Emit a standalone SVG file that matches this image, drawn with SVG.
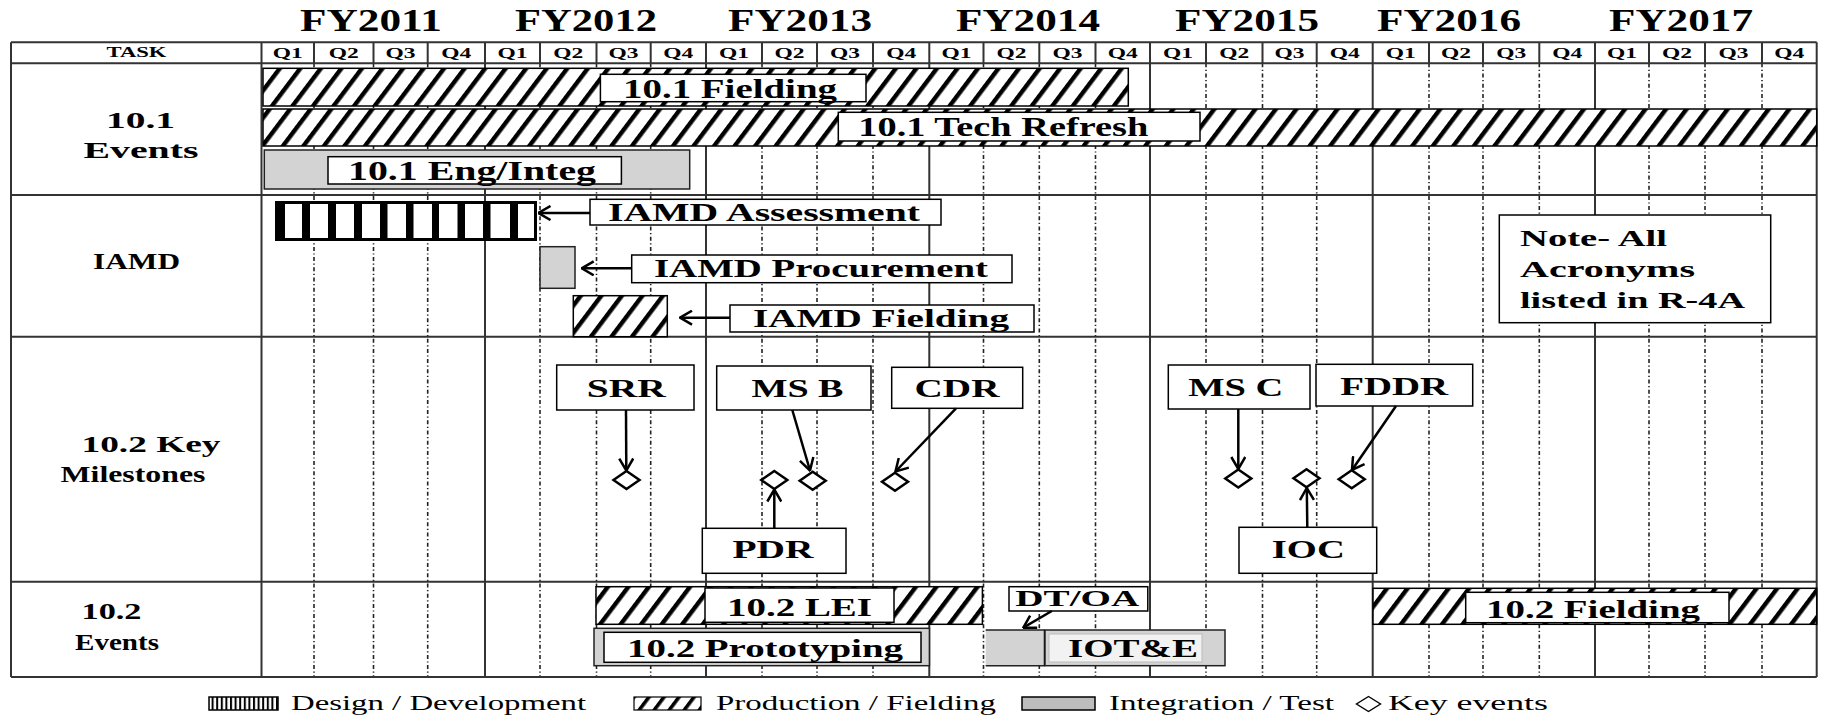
<svg xmlns="http://www.w3.org/2000/svg" width="1821" height="719" viewBox="0 0 1821 719">
<style>
.b{font-family:"Liberation Serif","Times New Roman",serif;font-weight:bold;fill:#000}
.r{font-family:"Liberation Serif","Times New Roman",serif;font-weight:normal;fill:#000}
.box{fill:#fff;stroke:#000;stroke-width:1.5}
.grey{fill:#d3d3d3;stroke:#222;stroke-width:1.5}
.hatch{fill:url(#hatch);stroke:#000;stroke-width:1.5}
.gs{stroke:#333;stroke-width:2;fill:none}
.gd{stroke:#222;stroke-width:1.6;stroke-dasharray:4 2.5 1.2 2.5;fill:none}
.conn{stroke:#000;stroke-width:2.5;fill:none;marker-end:url(#arrow)}
.dia{fill:#fff;stroke:#000;stroke-width:2.5}
</style>
<defs>
<pattern id="hatch" patternUnits="userSpaceOnUse" width="16.4" height="16.4" patternTransform="rotate(37)">
<rect width="16.4" height="16.4" fill="#fff"/>
<rect x="0" y="0" width="4.4" height="16.4" fill="#000"/>
</pattern>
<pattern id="hatchS" patternUnits="userSpaceOnUse" width="12" height="12" patternTransform="rotate(37)">
<rect width="12" height="12" fill="#fff"/>
<rect x="0" y="0" width="3.6" height="12" fill="#000"/>
</pattern>
<pattern id="vstripe" patternUnits="userSpaceOnUse" width="4.6" height="20">
<rect width="4.6" height="20" fill="#fff"/>
<rect x="0" y="0" width="2" height="20" fill="#000"/>
</pattern>
<marker id="arrow" markerUnits="userSpaceOnUse" viewBox="0 0 14 16" refX="13" refY="8" markerWidth="14" markerHeight="16" orient="auto">
<path d="M1,1 L13,8 L1,15" fill="none" stroke="#000" stroke-width="2.5"/>
</marker>
</defs>
<rect width="1821" height="719" fill="#fff"/>

<g id="years">
<text class="b" font-size="31" x="371" y="30.5" text-anchor="middle" textLength="142" lengthAdjust="spacingAndGlyphs">FY2011</text>
<text class="b" font-size="31" x="586" y="30.5" text-anchor="middle" textLength="142" lengthAdjust="spacingAndGlyphs">FY2012</text>
<text class="b" font-size="31" x="800" y="30.5" text-anchor="middle" textLength="144" lengthAdjust="spacingAndGlyphs">FY2013</text>
<text class="b" font-size="31" x="1028" y="30.5" text-anchor="middle" textLength="144" lengthAdjust="spacingAndGlyphs">FY2014</text>
<text class="b" font-size="31" x="1247" y="30.5" text-anchor="middle" textLength="144" lengthAdjust="spacingAndGlyphs">FY2015</text>
<text class="b" font-size="31" x="1449" y="30.5" text-anchor="middle" textLength="144" lengthAdjust="spacingAndGlyphs">FY2016</text>
<text class="b" font-size="31" x="1681" y="30.5" text-anchor="middle" textLength="144" lengthAdjust="spacingAndGlyphs">FY2017</text>
</g>

<g id="grid">
<path class="gs" d="M314,42.3V63.3 M373.5,42.3V63.3 M427.7,42.3V63.3 M540,42.3V63.3 M596.5,42.3V63.3 M650.7,42.3V63.3 M762,42.3V63.3 M817,42.3V63.3 M873,42.3V63.3 M983.5,42.3V63.3 M1039.3,42.3V63.3 M1095.5,42.3V63.3 M1206,42.3V63.3 M1262.5,42.3V63.3 M1316.7,42.3V63.3 M1429,42.3V63.3 M1483,42.3V63.3 M1539.3,42.3V63.3 M1649,42.3V63.3 M1705,42.3V63.3 M1762,42.3V63.3"/>
<path class="gd" d="M314,63.3V677 M373.5,63.3V677 M427.7,63.3V677 M540,63.3V677 M596.5,63.3V677 M650.7,63.3V677 M762,63.3V677 M817,63.3V677 M873,63.3V677 M983.5,63.3V677 M1039.3,63.3V677 M1095.5,63.3V677 M1206,63.3V677 M1262.5,63.3V677 M1316.7,63.3V677 M1429,63.3V677 M1483,63.3V677 M1539.3,63.3V677 M1649,63.3V677 M1705,63.3V677 M1762,63.3V677"/>
<path class="gs" d="M11,42.3V677 M261.5,42.3V677 M485,42.3V677 M706,42.3V677 M929.3,42.3V677 M1150,42.3V677 M1372.7,42.3V677 M1595,42.3V677 M1816.7,42.3V677"/>
<path class="gs" stroke-width="2.4" d="M11,42.3H1816.7 M11,63.3H1816.7 M11,195H1816.7 M11,336.7H1816.7 M11,581.7H1816.7 M11,677H1816.7"/>
</g>

<g id="header">
<text class="b" font-size="14" x="136.5" y="56.5" text-anchor="middle" textLength="60" lengthAdjust="spacingAndGlyphs">TASK</text>
<g class="b" font-size="15.5" text-anchor="middle">
<text x="287.75" y="58" textLength="30" lengthAdjust="spacingAndGlyphs">Q1</text>
<text x="343.75" y="58" textLength="30" lengthAdjust="spacingAndGlyphs">Q2</text>
<text x="400.6" y="58" textLength="30" lengthAdjust="spacingAndGlyphs">Q3</text>
<text x="456.35" y="58" textLength="30" lengthAdjust="spacingAndGlyphs">Q4</text>
<text x="512.5" y="58" textLength="30" lengthAdjust="spacingAndGlyphs">Q1</text>
<text x="568.25" y="58" textLength="30" lengthAdjust="spacingAndGlyphs">Q2</text>
<text x="623.6" y="58" textLength="30" lengthAdjust="spacingAndGlyphs">Q3</text>
<text x="678.35" y="58" textLength="30" lengthAdjust="spacingAndGlyphs">Q4</text>
<text x="734" y="58" textLength="30" lengthAdjust="spacingAndGlyphs">Q1</text>
<text x="789.5" y="58" textLength="30" lengthAdjust="spacingAndGlyphs">Q2</text>
<text x="845" y="58" textLength="30" lengthAdjust="spacingAndGlyphs">Q3</text>
<text x="901.15" y="58" textLength="30" lengthAdjust="spacingAndGlyphs">Q4</text>
<text x="956.4" y="58" textLength="30" lengthAdjust="spacingAndGlyphs">Q1</text>
<text x="1011.4" y="58" textLength="30" lengthAdjust="spacingAndGlyphs">Q2</text>
<text x="1067.4" y="58" textLength="30" lengthAdjust="spacingAndGlyphs">Q3</text>
<text x="1122.75" y="58" textLength="30" lengthAdjust="spacingAndGlyphs">Q4</text>
<text x="1178" y="58" textLength="30" lengthAdjust="spacingAndGlyphs">Q1</text>
<text x="1234.25" y="58" textLength="30" lengthAdjust="spacingAndGlyphs">Q2</text>
<text x="1289.6" y="58" textLength="30" lengthAdjust="spacingAndGlyphs">Q3</text>
<text x="1344.7" y="58" textLength="30" lengthAdjust="spacingAndGlyphs">Q4</text>
<text x="1400.85" y="58" textLength="30" lengthAdjust="spacingAndGlyphs">Q1</text>
<text x="1456" y="58" textLength="30" lengthAdjust="spacingAndGlyphs">Q2</text>
<text x="1511.15" y="58" textLength="30" lengthAdjust="spacingAndGlyphs">Q3</text>
<text x="1567.15" y="58" textLength="30" lengthAdjust="spacingAndGlyphs">Q4</text>
<text x="1622" y="58" textLength="30" lengthAdjust="spacingAndGlyphs">Q1</text>
<text x="1677" y="58" textLength="30" lengthAdjust="spacingAndGlyphs">Q2</text>
<text x="1733.5" y="58" textLength="30" lengthAdjust="spacingAndGlyphs">Q3</text>
<text x="1789.35" y="58" textLength="30" lengthAdjust="spacingAndGlyphs">Q4</text>
</g>
</g>

<g id="task-labels" class="b" text-anchor="middle">
<text font-size="24" x="140.5" y="127.5" textLength="69" lengthAdjust="spacingAndGlyphs">10.1</text>
<text font-size="24" x="141" y="158.3" textLength="115" lengthAdjust="spacingAndGlyphs">Events</text>
<text font-size="24" x="136.5" y="269" textLength="87" lengthAdjust="spacingAndGlyphs">IAMD</text>
<text font-size="23" x="151" y="452" textLength="139" lengthAdjust="spacingAndGlyphs">10.2 Key</text>
<text font-size="23" x="133" y="482" textLength="145" lengthAdjust="spacingAndGlyphs">Milestones</text>
<text font-size="24" x="111.5" y="619" textLength="60" lengthAdjust="spacingAndGlyphs">10.2</text>
<text font-size="23" x="117" y="650" textLength="84" lengthAdjust="spacingAndGlyphs">Events</text>
</g>

<g id="fielding-10-1">
<rect class="hatch" x="263" y="68.3" width="865.3" height="37.7"/>
<rect class="box" x="600.4" y="74.3" width="265.6" height="27.4"/>
<text class="b" font-size="28" x="730" y="97.5" text-anchor="middle" textLength="214" lengthAdjust="spacingAndGlyphs">10.1 Fielding</text>
</g>
<g id="tech-refresh-10-1">
<rect class="hatch" x="263" y="109" width="1553.7" height="37"/>
<rect class="box" x="838.3" y="112.3" width="361.7" height="28.7"/>
<text class="b" font-size="28" x="1003.3" y="135.5" text-anchor="middle" textLength="290" lengthAdjust="spacingAndGlyphs">10.1 Tech Refresh</text>
</g>
<g id="eng-integ-10-1">
<rect class="grey" x="264.3" y="150" width="425.4" height="39"/>
<rect class="box" x="328" y="156.7" width="293.4" height="27.3"/>
<text class="b" font-size="28" x="472" y="180" text-anchor="middle" textLength="248" lengthAdjust="spacingAndGlyphs">10.1 Eng/Integ</text>
</g>

<g id="iamd-design-bar">
<rect x="276.5" y="202.5" width="259" height="37" fill="#fff" stroke="#000" stroke-width="3"/>
<g fill="#000">
<rect x="275" y="201" width="10" height="40"/>
<rect x="302" y="201" width="8" height="40"/>
<rect x="328" y="201" width="8" height="40"/>
<rect x="354" y="201" width="8" height="40"/>
<rect x="380" y="201" width="7.5" height="40"/>
<rect x="406" y="201" width="7.5" height="40"/>
<rect x="432" y="201" width="7" height="40"/>
<rect x="457.5" y="201" width="7.5" height="40"/>
<rect x="483" y="201" width="7.5" height="40"/>
<rect x="510" y="201" width="8" height="40"/>
</g>
</g>
<g id="iamd-procurement-bar">
<rect class="grey" x="540" y="246.7" width="35" height="41.6"/>
</g>
<g id="iamd-fielding-bar">
<rect class="hatch" x="573.3" y="295.7" width="94" height="41"/>
</g>
<g id="iamd-assessment-label">
<rect class="box" x="590" y="199.3" width="351" height="25.7"/>
<text class="b" font-size="24.5" x="764" y="221" text-anchor="middle" textLength="312" lengthAdjust="spacingAndGlyphs">IAMD Assessment</text>
</g>
<g id="iamd-procurement-label">
<rect class="box" x="631.7" y="255" width="380.3" height="27.7"/>
<text class="b" font-size="24.5" x="821" y="277" text-anchor="middle" textLength="334" lengthAdjust="spacingAndGlyphs">IAMD Procurement</text>
</g>
<g id="iamd-fielding-label">
<rect class="box" x="730" y="305" width="304" height="27"/>
<text class="b" font-size="24.5" x="881" y="326.5" text-anchor="middle" textLength="256" lengthAdjust="spacingAndGlyphs">IAMD Fielding</text>
</g>

<g id="note">
<rect class="box" x="1499.3" y="215" width="271.4" height="107.7"/>
<text class="b" font-size="24" x="1520" y="246" textLength="147" lengthAdjust="spacingAndGlyphs">Note- All</text>
<text class="b" font-size="24" x="1520" y="277.3" textLength="175" lengthAdjust="spacingAndGlyphs">Acronyms</text>
<text class="b" font-size="24" x="1520" y="308.3" textLength="225" lengthAdjust="spacingAndGlyphs">listed in R-4A</text>
</g>

<g id="srr">
<rect class="box" x="556.7" y="365" width="137.3" height="45"/>
<text class="b" font-size="25" x="626.3" y="396.7" text-anchor="middle" textLength="79" lengthAdjust="spacingAndGlyphs">SRR</text>
<path class="dia" d="M626.5,471 L639.5,480 L626.5,489 L613.5,480 Z"/>
</g>
<g id="ms-b">
<rect class="box" x="716.7" y="366" width="154.3" height="44"/>
<text class="b" font-size="25" x="797.5" y="396.7" text-anchor="middle" textLength="92" lengthAdjust="spacingAndGlyphs">MS B</text>
<path class="dia" d="M812.7,471.7 L825.7,480.7 L812.7,489.7 L799.7,480.7 Z"/>
</g>
<g id="cdr">
<rect class="box" x="891.7" y="367.3" width="131" height="41"/>
<text class="b" font-size="25" x="957" y="397" text-anchor="middle" textLength="85" lengthAdjust="spacingAndGlyphs">CDR</text>
<path class="dia" d="M895,472.7 L908,481.7 L895,490.7 L882,481.7 Z"/>
</g>
<g id="pdr">
<rect class="box" x="702.3" y="528.3" width="143.7" height="45"/>
<text class="b" font-size="25" x="773" y="557.7" text-anchor="middle" textLength="81" lengthAdjust="spacingAndGlyphs">PDR</text>
<path class="dia" d="M774.3,471 L787.3,480 L774.3,489 L761.3,480 Z"/>
</g>
<g id="ms-c">
<rect class="box" x="1168.3" y="365" width="141.7" height="44"/>
<text class="b" font-size="25" x="1235.8" y="396" text-anchor="middle" textLength="95" lengthAdjust="spacingAndGlyphs">MS C</text>
<path class="dia" d="M1238.3,469.5 L1251.3,478.5 L1238.3,487.5 L1225.3,478.5 Z"/>
</g>
<g id="fddr">
<rect class="box" x="1316" y="364.3" width="156.7" height="41.7"/>
<text class="b" font-size="25" x="1394.2" y="395" text-anchor="middle" textLength="108" lengthAdjust="spacingAndGlyphs">FDDR</text>
<path class="dia" d="M1351.7,470.3 L1364.7,479.3 L1351.7,488.3 L1338.7,479.3 Z"/>
</g>
<g id="ioc">
<rect class="box" x="1239" y="527.3" width="137.7" height="46"/>
<text class="b" font-size="25" x="1308.3" y="557.7" text-anchor="middle" textLength="73" lengthAdjust="spacingAndGlyphs">IOC</text>
<path class="dia" d="M1306.5,469.3 L1319.5,478.3 L1306.5,487.3 L1293.5,478.3 Z"/>
</g>

<g id="lei-10-2">
<rect class="hatch" x="596" y="586.7" width="386.4" height="37.6"/>
<rect class="box" x="705" y="588" width="189" height="34.3"/>
<text class="b" font-size="25" x="799.5" y="615.7" text-anchor="middle" textLength="145" lengthAdjust="spacingAndGlyphs">10.2 LEI</text>
</g>
<g id="prototyping-10-2">
<rect class="grey" x="594" y="628.3" width="335.4" height="37.4"/>
<rect class="box" x="604" y="632.3" width="317" height="30"/>
<text class="b" font-size="24.5" x="765" y="656.7" text-anchor="middle" textLength="276" lengthAdjust="spacingAndGlyphs">10.2 Prototyping</text>
</g>
<g id="dt-oa">
<rect x="985.7" y="630" width="59.3" height="35.7" fill="#d3d3d3"/>
<path d="M985.7,630 H1045 M985.7,665.7 H1045" stroke="#222" stroke-width="1.5" fill="none"/>
<line x1="1045" y1="630" x2="1045" y2="665.7" stroke="#000" stroke-width="2.5"/>
<rect class="box" x="1009" y="586.7" width="138.8" height="24.3"/>
<text class="b" font-size="23.5" x="1077.3" y="606" text-anchor="middle" textLength="124" lengthAdjust="spacingAndGlyphs">DT/OA</text>
</g>
<g id="iot-e">
<rect class="grey" x="1045" y="630" width="180" height="35.7"/>
<rect x="1049" y="634" width="153" height="28" fill="#f2f2f2" stroke="#bbb" stroke-width="1"/>
<text class="b" font-size="24.5" x="1133" y="656.7" text-anchor="middle" textLength="130" lengthAdjust="spacingAndGlyphs">IOT&amp;E</text>
</g>
<g id="fielding-10-2">
<rect class="hatch" x="1373" y="588.3" width="443.7" height="36"/>
<rect class="box" x="1465.7" y="592.3" width="263.3" height="30.4"/>
<text class="b" font-size="25.5" x="1593" y="617.7" text-anchor="middle" textLength="214" lengthAdjust="spacingAndGlyphs">10.2 Fielding</text>
</g>

<g id="connectors">
<line class="conn" x1="590" y1="213" x2="538.5" y2="213"/>
<line class="conn" x1="631.7" y1="268.3" x2="581.7" y2="268.3"/>
<line class="conn" x1="730" y1="317.7" x2="680" y2="317.7"/>
<line class="conn" x1="626" y1="410" x2="626.3" y2="470.5"/>
<line class="conn" x1="792.3" y1="410" x2="810" y2="470.5"/>
<line class="conn" x1="956" y1="408.3" x2="895.5" y2="471.5"/>
<line class="conn" x1="774.3" y1="528.3" x2="774.3" y2="489.5"/>
<line class="conn" x1="1238.3" y1="409" x2="1238.3" y2="469"/>
<line class="conn" x1="1396" y1="406" x2="1352" y2="470"/>
<line class="conn" x1="1307.3" y1="527.3" x2="1306.8" y2="488"/>
<line class="conn" x1="1051.8" y1="611" x2="1023.3" y2="627.7"/>
</g>

<g id="legend">
<rect x="209" y="697" width="69" height="13" fill="url(#vstripe)" stroke="#000" stroke-width="1.5"/>
<text class="r" font-size="20.5" x="291" y="710" textLength="295" lengthAdjust="spacingAndGlyphs">Design / Development</text>
<rect x="634" y="697" width="67" height="13" fill="url(#hatchS)" stroke="#000" stroke-width="1.2"/>
<text class="r" font-size="20.5" x="716" y="710" textLength="280" lengthAdjust="spacingAndGlyphs">Production / Fielding</text>
<rect x="1022" y="697" width="73" height="13" fill="#bdbdbd" stroke="#000" stroke-width="1.5"/>
<text class="r" font-size="20.5" x="1109" y="710" textLength="225" lengthAdjust="spacingAndGlyphs">Integration / Test</text>
<path d="M1368.5,696.5 L1380.5,704 L1368.5,711.5 L1356.5,704 Z" fill="#fff" stroke="#000" stroke-width="1.4"/>
<text class="r" font-size="20.5" x="1388" y="710" textLength="160" lengthAdjust="spacingAndGlyphs">Key events</text>
</g>
</svg>
